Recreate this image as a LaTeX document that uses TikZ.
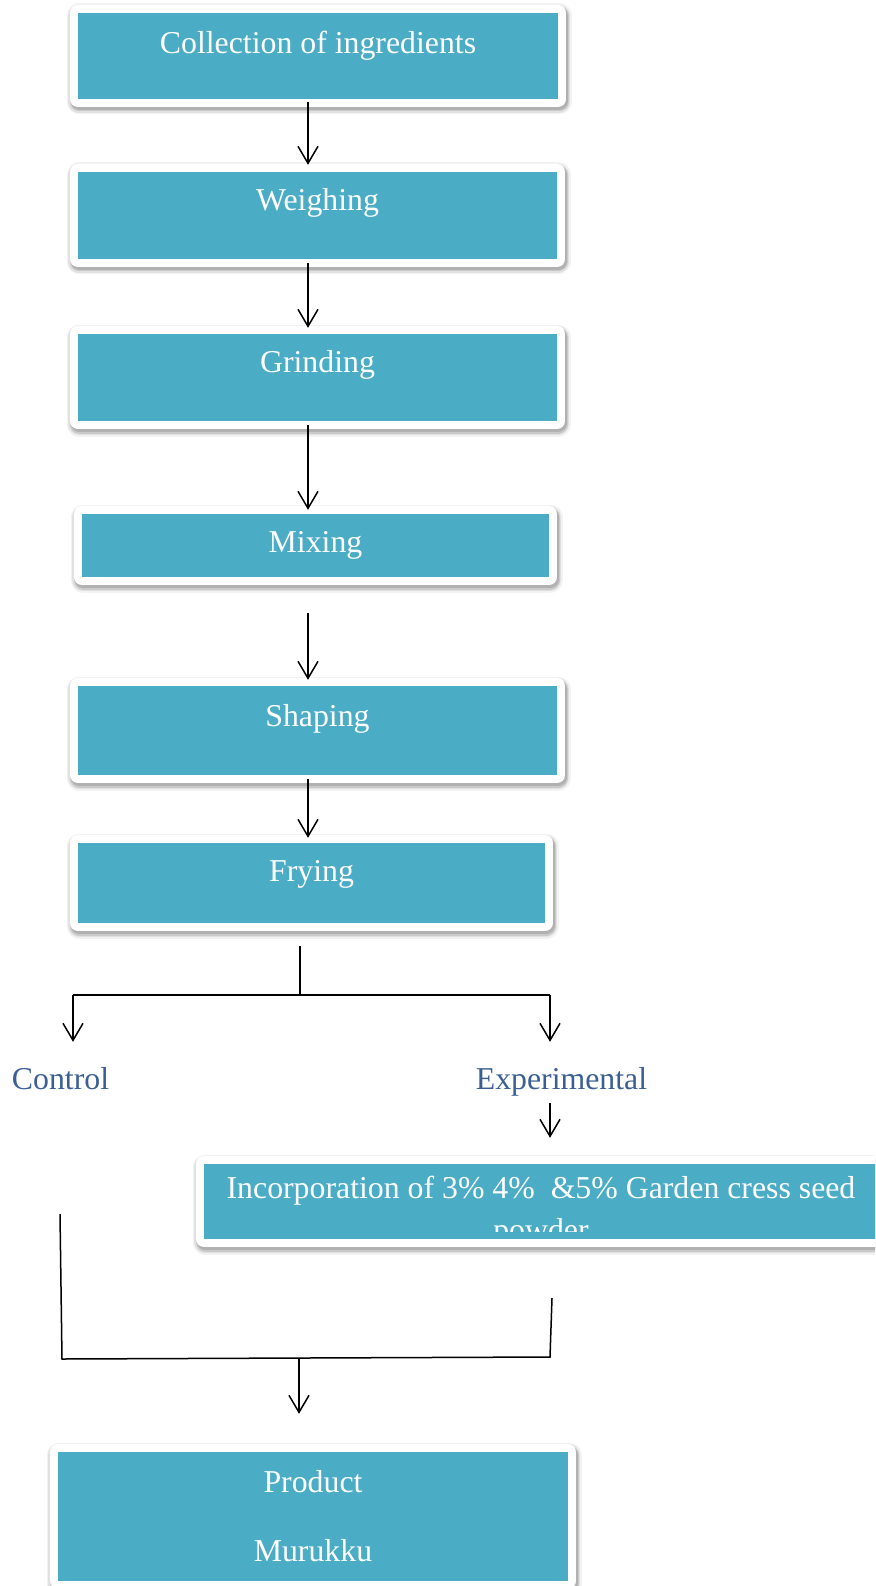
\documentclass[tikz,border=0pt]{standalone}
\usepackage{fontspec}
\setmainfont{Liberation Serif}
\usetikzlibrary{arrows.meta,calc}
\definecolor{boxteal}{HTML}{4BACC6}
\definecolor{lblue}{HTML}{3B5F95}
\begin{document}
\begin{tikzpicture}[x=1pt,y=-1pt,
  box/.style={rectangle, inner sep=0pt, fill=boxteal,
    preaction={draw=black, draw opacity=0.05, line width=25pt, line join=round, transform canvas={xshift=1pt,yshift=-3pt}},
    preaction={draw=black, draw opacity=0.07, line width=22pt, line join=round, transform canvas={xshift=1pt,yshift=-3pt}},
    preaction={draw=black, draw opacity=0.10, line width=19pt, line join=round, transform canvas={xshift=1pt,yshift=-3pt}},
    preaction={draw=black, draw opacity=0.12, line width=17pt, line join=round, transform canvas={xshift=1pt,yshift=-2.5pt}},
    preaction={draw=white, line width=16pt, line join=round}},
  boxtxt/.style={text=white, font=\fontsize{31.8}{40}\selectfont, inner sep=0pt, text height=22pt, text depth=7pt},
  boxtxttwo/.style={text=white, font=\fontsize{31.8}{42}\selectfont, inner sep=0pt, align=center},
  lbl/.style={text=lblue, font=\fontsize{31.8}{40}\selectfont, inner sep=0pt, text height=22pt, text depth=7pt},
  arr/.style={line width=1.5pt, -{Straight Barb[length=17pt,width=20pt]}},
  conn/.style={line width=1.5pt}
]
\useasboundingbox (0,0) rectangle (875,1586);
\clip (0,0) rectangle (875,1586);

\node[box, minimum width=480pt, minimum height=86pt, label={[boxtxt,yshift=9.5pt]center:Collection of ingredients}] (b1) at (318,56) {};
\node[box, minimum width=479pt, minimum height=87pt, label={[boxtxt,yshift=12.5pt]center:Weighing}] (b2) at (317.5,215.5) {};
\node[box, minimum width=479pt, minimum height=87pt, label={[boxtxt,yshift=12.5pt]center:Grinding}] (b3) at (317.5,377.5) {};
\node[box, minimum width=467pt, minimum height=63pt, label={[boxtxt,yshift=0.5pt]center:Mixing}] (b4) at (315.5,545.5) {};
\node[box, minimum width=479pt, minimum height=89pt, label={[boxtxt,yshift=11.5pt]center:Shaping}] (b5) at (317.5,730.5) {};
\node[box, minimum width=467pt, minimum height=80pt, label={[boxtxt,yshift=9pt]center:Frying}] (b6) at (311.5,883) {};

\node[lbl] (ctrl) at (60.5,1082) {Control};
\node[lbl] (exp) at (561.5,1082) {Experimental};

\node[box, minimum width=674pt, minimum height=75pt] (inc) at (541,1201.5) {};
\begin{scope}
  \clip ($(inc.south west)+(0,-7.5)$) rectangle (inc.north east);
  \node[boxtxttwo, anchor=north] (inct) at ($(inc.north)+(0,11.8)$) {Incorporation of 3\% 4\%\ \ \&5\% Garden cress seed\\powder};
\end{scope}

\node[box, minimum width=510pt, minimum height=129pt] (prod) at (313,1516.5) {};
\node[boxtxttwo, anchor=north] (prodt) at ($(prod.north)+(0,18.8)$) {Product\\[27pt]Murukku};

\coordinate (ax) at (308,0);
\draw[arr] ($(b1.south -| ax)+(0,3)$) -- ($(b2.north -| ax)+(0,-7)$);
\draw[arr] ($(b2.south -| ax)+(0,4)$) -- ($(b3.north -| ax)+(0,-6)$);
\draw[arr] ($(b3.south -| ax)+(0,4)$) -- ($(b4.north -| ax)+(0,-4)$);
\draw[arr] ($(b4.south -| ax)+(0,36)$) -- ($(b5.north -| ax)+(0,-6)$);
\draw[arr] ($(b5.south -| ax)+(0,4)$) -- ($(b6.north -| ax)+(0,-5)$);

\coordinate (fb) at (300,995);
\coordinate (fl) at (73,995);
\coordinate (fr) at (550,995);
\draw[conn] ($(b6.south -| fb)+(0,23)$) -- (fb);
\draw[conn] (fl) -- (fr);
\draw[arr] (fl) -- ($(fl |- ctrl.north)+(0,-25.5)$);
\draw[arr] (fr) -- ($(fr |- exp.north)+(0,-25.5)$);
\draw[arr] ($(exp.south -| fr)+(0,6.5)$) -- ($(inc.north -| fr)+(0,-26)$);

\coordinate (jl) at (62,1359);
\coordinate (jr) at (550,1357);
\coordinate (jm) at (299,1358);
\draw[conn] ($(ctrl.south)+(-0.5,117.5)$) -- (jl) -- (jr) -- ($(inc.south -| jr)+(2,59)$);
\draw[arr] (jm) -- ($(prod.north -| jm)+(0,-38)$);
\end{tikzpicture}
\end{document}
